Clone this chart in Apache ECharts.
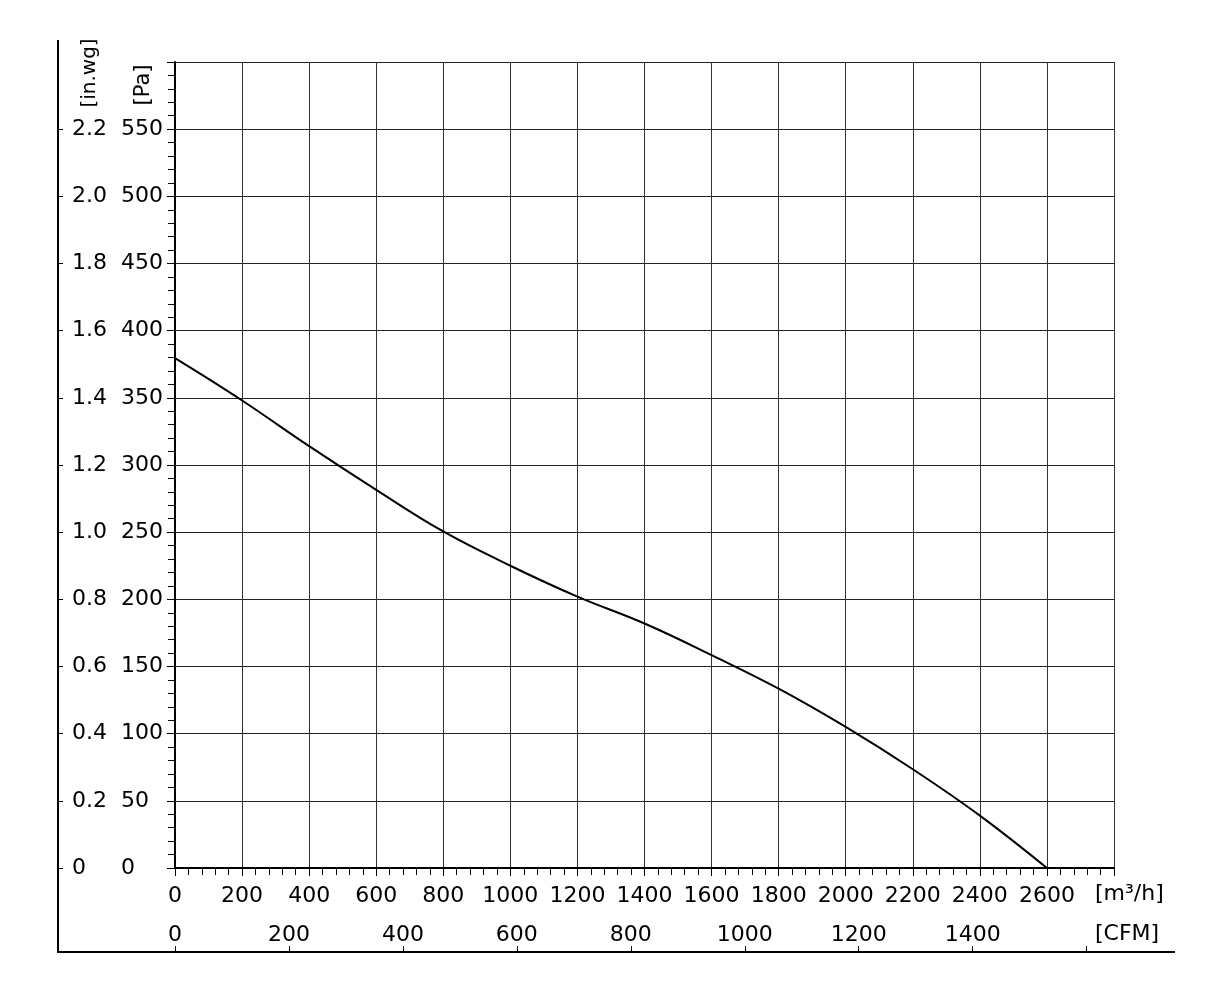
<!DOCTYPE html>
<html>
<head>
<meta charset="utf-8">
<script src="https://cdn.jsdelivr.net/npm/echarts@6/dist/echarts.min.js"></script>
<style>
  html, body { margin: 0; padding: 0; background: #fff; }
  #fanChart { width: 1230px; height: 991px; }
</style>
</head>
<body>
<div id="fanChart"></div>
<script>
///////////////////////
// fan curve data
///////////////////////

// air flow [m3/h]
const flow = [0, 200, 400, 600, 800, 1000, 1200, 1400, 1600, 1800, 2000, 2200, 2400, 2600];
// static pressure [Pa]
const pressure = [379.5, 348, 314, 281.5, 250.5, 225, 202, 182, 158.5, 133.5, 105, 73.5, 39, 0];

// ticks and labels of the secondary axes
const cfmTicks = [0, 200, 400, 600, 800, 1000, 1200, 1400, 1600];
const cfmLabels = [0, 200, 400, 600, 800, 1000, 1200, 1400];
const inwgTicks = [0, 0.2, 0.4, 0.6, 0.8, 1.0, 1.2, 1.4, 1.6, 1.8, 2.0, 2.2];

const M3H_PER_CFM = 1.699011;
const FONT = 'DejaVu Sans';
const FS = 22;

function createFanChart() {
    const chart = echarts.init(document.getElementById('fanChart'));
    const txt = { fontFamily: FONT, fontSize: FS, color: '#000' };

    const option = {
        animation: false,
        backgroundColor: '#fff',
        grid: { left: 175, top: 62, width: 939, height: 806 },
        xAxis: [{
            type: 'value',
            min: 0, max: 2800, interval: 200,
            axisLine: { onZero: false, lineStyle: { color: '#000', width: 2 } },
            axisTick: { length: 8, lineStyle: { color: '#000' } },
            minorTick: { show: true, splitNumber: 5, length: 7, lineStyle: { color: '#000' } },
            splitLine: { show: true, lineStyle: { color: '#333', width: 1 } },
            axisLabel: Object.assign({
                margin: 17,
                formatter: v => (v === 2800 ? '' : String(v))
            }, txt)
        }, {
            // second scale in CFM on the frame bottom line
            type: 'value',
            position: 'bottom',
            offset: 84,
            min: 0, max: 2800 / M3H_PER_CFM,
            axisLine: { show: true, onZero: false, lineStyle: { color: '#000', width: 2 } },
            axisTick: { inside: true, length: 6, customValues: cfmTicks, lineStyle: { color: '#000' } },
            splitLine: { show: false },
            axisLabel: Object.assign({
                inside: true,
                margin: 6,
                customValues: cfmLabels,
                formatter: v => String(v)
            }, txt)
        }],
        yAxis: [{
            type: 'value',
            min: 0, max: 600, interval: 50,
            axisLine: { show: true, onZero: false, lineStyle: { color: '#000', width: 2 } },
            axisTick: { show: true, length: 8, lineStyle: { color: '#000' } },
            minorTick: { show: true, splitNumber: 5, length: 7, lineStyle: { color: '#000' } },
            splitLine: { show: true, lineStyle: { color: '#222', width: 1 } },
            axisLabel: Object.assign({
                align: 'left',
                margin: 54,
                formatter: v => (v === 600 ? '' : String(v))
            }, txt)
        }, {
            // in.wg scale on the frame left line
            type: 'value',
            position: 'left',
            offset: 117,
            min: 0, max: 2.4, interval: 0.2,
            axisLine: { show: true, onZero: false, lineStyle: { color: '#000', width: 2 } },
            axisTick: { show: true, inside: true, length: 5, customValues: inwgTicks, lineStyle: { color: '#000' } },
            splitLine: { show: false },
            axisLabel: Object.assign({
                inside: true,
                align: 'left',
                margin: 14,
                customValues: inwgTicks,
                formatter: v => (v === 0 ? '0' : v.toFixed(1))
            }, txt)
        }],
        graphic: [
            {
                type: 'polyline',
                shape: { points: [[58, 40], [58, 952], [1175, 952]] },
                style: { stroke: '#000', lineWidth: 2, fill: null }
            },
            {
                type: 'text', x: 90, y: 73, rotation: Math.PI / 2,
                style: { text: '[in.wg]', font: '20px "' + FONT + '"', fill: '#000', align: 'center', verticalAlign: 'middle' }
            },
            {
                type: 'text', x: 144, y: 85, rotation: Math.PI / 2,
                style: { text: '[Pa]', font: '21px "' + FONT + '"', fill: '#000', align: 'center', verticalAlign: 'middle' }
            },
            {
                type: 'text', x: 1095, y: 894,
                style: { text: '[m³/h]', font: FS + 'px "' + FONT + '"', fill: '#000', align: 'left', verticalAlign: 'middle' }
            },
            {
                type: 'text', x: 1095, y: 934,
                style: { text: '[CFM]', font: FS + 'px "' + FONT + '"', fill: '#000', align: 'left', verticalAlign: 'middle' }
            }
        ],
        series: [{
            type: 'line',
            xAxisIndex: 0,
            yAxisIndex: 0,
            data: flow.map((q, i) => [q, pressure[i]]),
            smooth: 0.4,
            symbol: 'none',
            lineStyle: { color: '#000', width: 2 }
        }]
    };
    chart.setOption(option);
}

createFanChart();
</script>
</body>
</html>
